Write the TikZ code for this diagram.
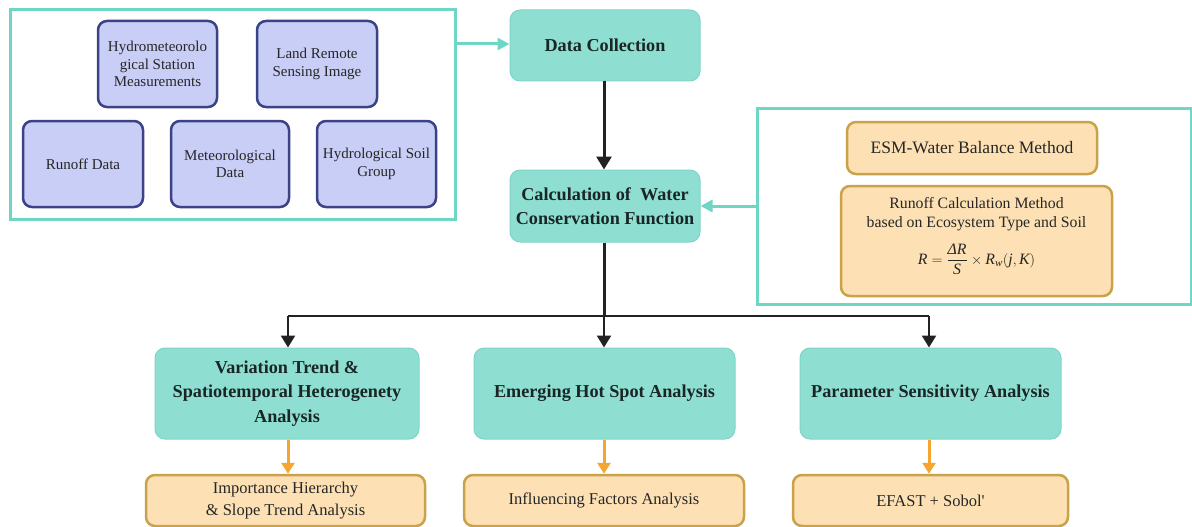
\documentclass[tikz,border=0pt]{standalone}
\usepackage{fontspec}
\usepackage{amsmath}
\setmainfont{Liberation Serif}
\usetikzlibrary{arrows.meta}
\definecolor{tealfill}{HTML}{8EDFD2}
\definecolor{tealdraw}{HTML}{7ED5C6}
\definecolor{tealline}{HTML}{6FD6C6}
\definecolor{bluefill}{HTML}{C8CEF6}
\definecolor{bluedraw}{HTML}{3B4285}
\definecolor{orfill}{HTML}{FDE1B4}
\definecolor{ordraw}{HTML}{C9A24A}
\definecolor{orarrow}{HTML}{F6A531}
\definecolor{darkline}{HTML}{222222}
\definecolor{tealtext}{HTML}{1A2626}
\tikzset{
  box/.style={rectangle, inner sep=0pt, align=center},
  groupbox/.style={box, draw=tealline, line width=3pt, fill=white},
  bluebox/.style={box, draw=bluedraw, fill=bluefill, line width=2.5pt, rounded corners=9pt,
    font=\fontsize{15}{17.5}\selectfont, text=black!85},
  tealbox/.style={box, draw=tealdraw, fill=tealfill, line width=1pt, rounded corners=10pt,
    font=\fontsize{18.2}{24.5}\selectfont\bfseries, text=tealtext},
  orbox/.style={box, draw=ordraw, fill=orfill, line width=2.5pt, rounded corners=9pt,
    font=\fontsize{16.5}{21.5}\selectfont, text=black!85},
  darkarrow/.style={draw=darkline, line width=3pt, -{Triangle[width=15pt,length=13pt]}},
  brancharrow/.style={draw=darkline, line width=2.5pt, -{Triangle[width=14pt,length=12pt]}},
  tealarrow/.style={draw=tealline, line width=3pt, -{Triangle[width=12pt,length=12pt]}},
  orarrowstyle/.style={draw=orarrow, line width=3pt, -{Triangle[width=13pt,length=11pt]}},
}
\begin{document}
\begin{tikzpicture}[x=1pt,y=-1pt]
\useasboundingbox (0,0) rectangle (1192,527);
% left group
\node[groupbox, minimum width=445pt, minimum height=209pt] (src) at (232.5,114.5) {};
\node[bluebox, minimum width=119pt, minimum height=86pt] (hydro) at (157.5,64) {Hydrometeorolo\\gical Station\\Measurements};
\node[bluebox, minimum width=120pt, minimum height=86pt] (land) at (317,64) {Land Remote\\Sensing Image};
\node[bluebox, minimum width=120pt, minimum height=86pt] (runoff) at (83,164) {Runoff Data};
\node[bluebox, minimum width=118pt, minimum height=86pt] (meteo) at (230,164) {Meteorological\\Data};
\node[bluebox, minimum width=119pt, minimum height=86pt] (hsoil) at (376.5,164) {Hydrological Soil\\Group};
% main column
\node[tealbox, minimum width=190pt, minimum height=71pt] (dc) at (605,45.5) {Data Collection};
\node[tealbox, minimum width=190pt, minimum height=72pt] (calc) at (605,206) {Calculation of\ \ Water\\Conservation Function};
% right group
\node[groupbox, minimum width=434pt, minimum height=196pt] (meth) at (974,206) {};
\node[orbox, minimum width=250pt, minimum height=52pt, font=\fontsize{17.5}{19}\selectfont] (esm) at (972,148) {ESM-Water Balance Method};
\node[orbox, minimum width=271pt, minimum height=110pt] (rcm) at (976.5,241) {};
\node[box, font=\fontsize{15.8}{19}\selectfont, text=black!85] (rcmtext) at ([yshift=5pt]rcm.center)
  {Runoff Calculation Method\\based on Ecosystem Type and Soil\\[12pt]
   $\textit{R}=\dfrac{\textit{ΔR}}{\textit{S}}\times\textit{R}_{\textit{w}}(\textit{j},\textit{K})$};
% analysis row
\node[tealbox, minimum width=264pt, minimum height=91pt] (var) at (287,393.5) {Variation Trend \&\\Spatiotemporal Heterogenety\\Analysis};
\node[tealbox, minimum width=261pt, minimum height=91pt] (hot) at (604.5,393.5) {Emerging Hot Spot Analysis};
\node[tealbox, minimum width=261pt, minimum height=91pt] (par) at (930.5,393.5) {Parameter Sensitivity Analysis};
% bottom row
\node[orbox, minimum width=279pt, minimum height=51pt] (imp) at (285.5,500.5) {Importance Hierarchy\\\& Slope Trend Analysis};
\node[orbox, minimum width=280pt, minimum height=51pt] (inf) at (604,500.5) {Influencing Factors Analysis};
\node[orbox, minimum width=275pt, minimum height=51pt] (efa) at (930.5,500.5) {EFAST + Sobol\textquotesingle};
% connectors
\coordinate (split) at (604,316);
\coordinate (splitL) at (288,316);
\coordinate (splitR) at (929,316);
\draw[tealarrow] (src.east |- 0,44) -- (dc.west |- 0,44);
\draw[darkarrow] (dc.south -| split) -- (calc.north -| split);
\draw[tealarrow] (meth.west) -- (calc.east);
\draw[draw=darkline, line width=3pt] (calc.south -| split) -- (split);
\draw[draw=darkline, line width=2pt] (splitL) -- (splitR);
\draw[brancharrow] (splitL) -- (var.north -| splitL);
\draw[brancharrow] (split) -- (hot.north -| split);
\draw[brancharrow] (splitR) -- (par.north -| splitR);
\draw[orarrowstyle] (var.south -| splitL) -- (imp.north -| splitL);
\draw[orarrowstyle] (hot.south -| split) -- (inf.north -| split);
\draw[orarrowstyle] (par.south -| splitR) -- (efa.north -| splitR);
\end{tikzpicture}
\end{document}
